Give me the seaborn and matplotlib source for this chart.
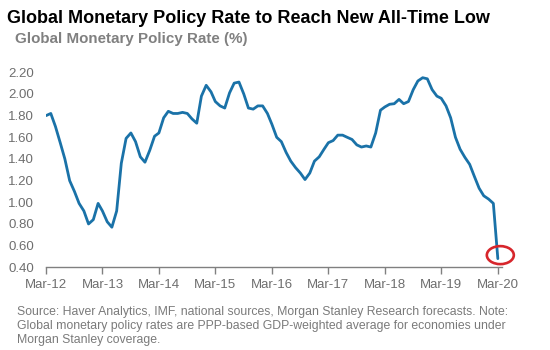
import matplotlib
matplotlib.use("Agg")
import matplotlib.pyplot as plt
import matplotlib.dates as mdates
from matplotlib.patches import Ellipse
import seaborn as sns
import pandas as pd
import numpy as np

# ---- data (monthly, Mar-2012 .. Mar-2020) ----
start_date = "2012-03-01"
rate = [
    1.80, 1.82, 1.70, 1.55, 1.40, 1.20, 1.10, 0.99, 0.92, 0.80,
    0.84, 0.99, 0.92, 0.82, 0.77, 0.92, 1.36, 1.59, 1.64, 1.56,
    1.42, 1.37, 1.48, 1.61, 1.64, 1.78, 1.84, 1.82, 1.82, 1.83,
    1.82, 1.77, 1.73, 1.98, 2.08, 2.02, 1.93, 1.89, 1.87, 2.01,
    2.10, 2.11, 2.00, 1.87, 1.86, 1.89, 1.89, 1.82, 1.72, 1.60,
    1.56, 1.46, 1.38, 1.32, 1.27, 1.21, 1.27, 1.38, 1.42, 1.49,
    1.55, 1.57, 1.62, 1.62, 1.60, 1.58, 1.53, 1.51, 1.52, 1.51,
    1.64, 1.85, 1.88, 1.905, 1.91, 1.95, 1.91, 1.93, 2.04, 2.12,
    2.15, 2.14, 2.04, 1.98, 1.96, 1.89, 1.78, 1.60, 1.49, 1.415,
    1.35, 1.24, 1.13, 1.06, 1.03, 0.99, 0.48,
]
tick_years = list(range(2012, 2021))
tick_labels = ["Mar-12", "Mar-13", "Mar-14", "Mar-15", "Mar-16",
               "Mar-17", "Mar-18", "Mar-19", "Mar-20"]
y_ticks = [0.40, 0.60, 0.80, 1.00, 1.20, 1.40, 1.60, 1.80, 2.00, 2.20]

title = "Global Monetary Policy Rate to Reach New All-Time Low"
subtitle = "Global Monetary Policy Rate (%)"
source = ("Source: Haver Analytics, IMF, national sources, Morgan Stanley Research forecasts. Note:\n"
          "Global monetary policy rates are PPP-based GDP-weighted average for economies under\n"
          "Morgan Stanley coverage.")

dates = pd.date_range(start_date, periods=len(rate), freq="MS")
df = pd.DataFrame({"date": dates, "rate": rate})

sns.set_style("white")
plt.rcParams["font.family"] = ["Liberation Sans", "DejaVu Sans"]

W, H = 550, 350
fig = plt.figure(figsize=(W / 100, H / 100), dpi=100)
ax = fig.add_axes([46 / W, (H - 267.3) / H, (502 - 46) / W, (267.3 - 72.3) / H])

line_color = "#1a72a8"
sns.lineplot(data=df, x="date", y="rate", ax=ax, color=line_color, linewidth=2.0)

ax.set_ylim(0.40, 2.20)
ax.set_xlim(pd.Timestamp("2012-03-01"), pd.Timestamp("2020-03-28"))

ax.set_yticks(y_ticks)
ax.set_yticklabels([f"{v:.2f}" for v in y_ticks])
tick_dates = [pd.Timestamp(f"{y}-03-01") for y in tick_years]
ax.set_xticks(tick_dates)
ax.set_xticklabels(tick_labels)

grey_txt = "#6e6e6e"
ax.tick_params(axis="x", length=5, width=1, color="#808080", pad=3.5,
               labelsize=9.5, labelcolor=grey_txt, direction="out", bottom=True)
ax.tick_params(axis="y", length=0, pad=8.5, labelsize=9.5, labelcolor=grey_txt)

for s in ["top", "right", "left"]:
    ax.spines[s].set_visible(False)
ax.spines["bottom"].set_color("#808080")
ax.spines["bottom"].set_linewidth(1.0)
ax.set_xlabel("")
ax.set_ylabel("")
ax.grid(False)

# red circle around the last point
fig.canvas.draw()
last_xy = ax.transData.transform((mdates.date2num(dates[-1]), rate[-1]))
ell = Ellipse((last_xy[0] + 2.5, last_xy[1] + 3.5), width=27, height=18,
              fill=False, edgecolor="#d7262c", linewidth=1.9, transform=None,
              clip_on=False, zorder=5)
ax.add_artist(ell)

fig.text(7 / W, 1 - 22.7 / H, title, fontsize=13, fontweight="bold",
         color="black", ha="left", va="baseline")
fig.text(15 / W, 1 - 43.5 / H, subtitle, fontsize=10.9, fontweight="bold",
         color="#808080", ha="left", va="baseline")
fig.text(17 / W, 1 - 306.5 / H, source, fontsize=8.8, color="#7a7a7a",
         ha="left", va="top", linespacing=1.17)

fig.savefig("out.png", dpi=100)
